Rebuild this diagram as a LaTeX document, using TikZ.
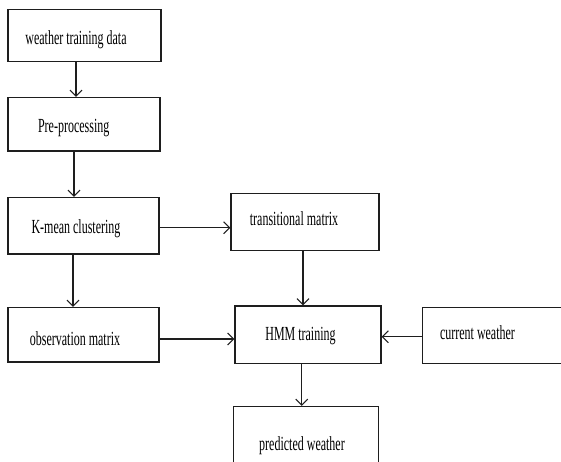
\documentclass[tikz,border=0pt]{standalone}
\usepackage{fontspec}
\usetikzlibrary{arrows.meta}
\newfontfamily\narrowserif{Liberation Serif}[FakeStretch=0.6]
\definecolor{trazo}{RGB}{30,30,30}
\tikzset{
  caja/.style={draw=trazo, line width=1.2pt, rectangle, inner sep=0pt},
  rotulo/.style={anchor=base, inner sep=0pt, font=\narrowserif\fontsize{20}{24}\selectfont, text=black},
  fl/.style={-{Straight Barb[length=6pt, width=12pt]}, line width=1.1pt, trazo},
}
\begin{document}
\begin{tikzpicture}[x=1pt, y=-1pt]
  \useasboundingbox (0,0) rectangle (561,461);
  % boxes
  \node[caja, minimum width=153pt, minimum height=52pt] (wtd) at (84.5,35.5) {};
  \node[caja, minimum width=152pt, minimum height=53.5pt] (pre) at (84,124.2) {};
  \node[caja, minimum width=151pt, minimum height=56.5pt] (kmc) at (83.5,225.7) {};
  \node[caja, minimum width=148pt, minimum height=57pt] (trm) at (305,222) {};
  \node[caja, minimum width=151pt, minimum height=54.5pt] (obs) at (83.5,334.7) {};
  \node[caja, minimum width=146pt, minimum height=57.5pt] (hmm) at (308,334.7) {};
  \node[caja, minimum width=152pt, minimum height=56.5pt] (cur) at (498.7,335.5) {};
  \node[caja, minimum width=145pt, minimum height=57pt] (pred) at (306,435) {};
  % texts
  \node[rotulo] (wtd-t) at (76,44) {weather training data};
  \node[rotulo] (pre-t) at (73.7,132.7) {Pre-processing};
  \node[rotulo] (kmc-t) at (76,233.3) {K-mean clustering};
  \node[rotulo] (trm-t) at (294,225.7) {transitional matrix};
  \node[rotulo] (obs-t) at (75,345.7) {observation matrix};
  \node[rotulo] (hmm-t) at (300.5,340.7) {HMM training};
  \node[rotulo] (cur-t) at (477.5,339.3) {current weather};
  \node[rotulo] (pred-t) at (302,450.7) {predicted weather};
  % flow
  \draw[fl] ([xshift=-8.5pt]wtd.south) -- ([xshift=-8pt]pre.north);
  \draw[fl] ([xshift=-10pt]pre.south) -- ([xshift=-9.5pt]kmc.north);
  \draw[fl] ([yshift=-2pt]kmc.east) -- ([yshift=-5.7pt]trm.west);
  \draw[fl] ([xshift=-10.5pt]kmc.south) -- ([xshift=-10.5pt]obs.north);
  \draw[fl] ([xshift=-2pt]trm.south) -- ([xshift=-5pt]hmm.north);
  \draw[fl] ([yshift=-4.3pt]obs.east) -- ([yshift=-4.3pt]hmm.west);
  \draw[fl] ([yshift=-1.2pt]cur.west) -- ([yshift=-2pt]hmm.east);
  \draw[fl] ([xshift=-6.3pt]hmm.south) -- ([xshift=-4.3pt]pred.north);
\end{tikzpicture}
\end{document}
